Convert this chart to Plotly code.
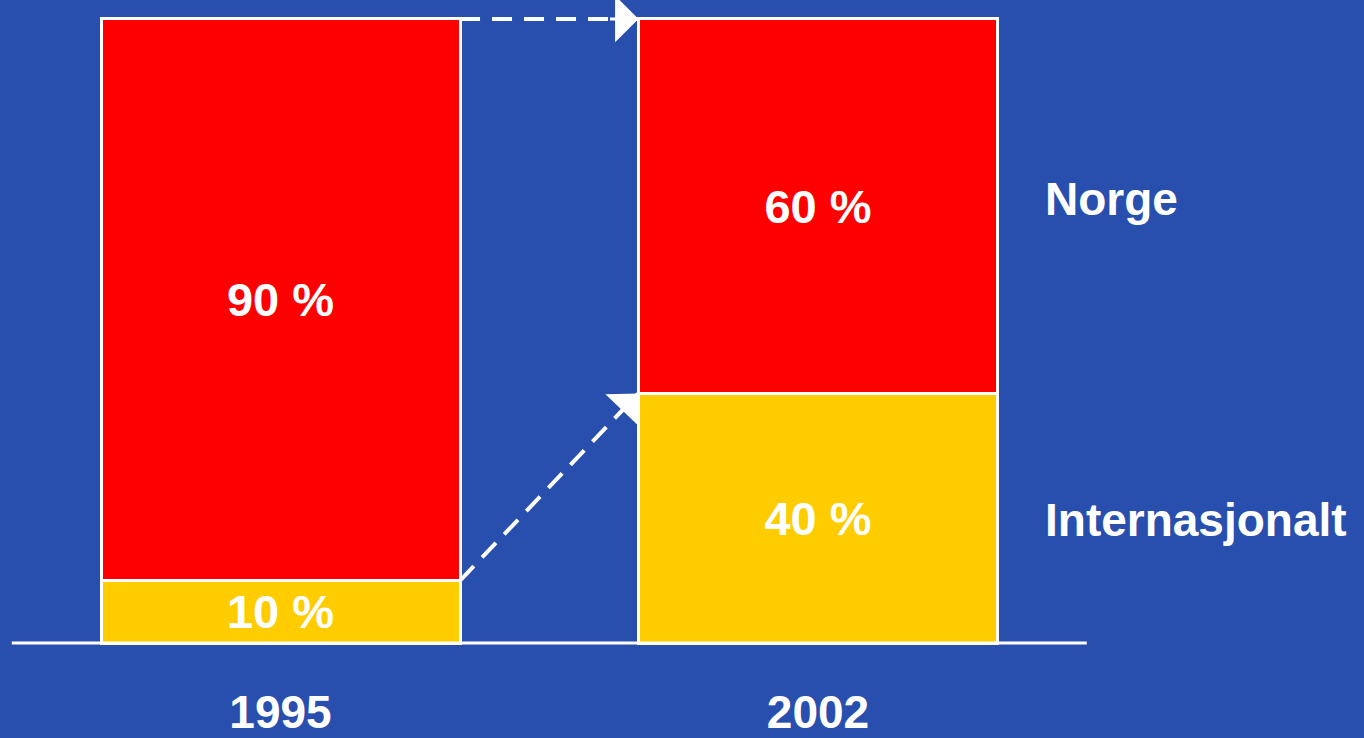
import plotly.graph_objects as go

years = ["1995", "2002"]
norge = [90, 60]
internasjonalt = [10, 40]
series_names = ["Internasjonalt", "Norge"]

BG = "#284FAE"
RED = "#FF0000"
YELLOW = "#FFCC00"
FONT = "Liberation Sans, Arial, sans-serif"
W = 0.668

xpos = list(range(len(years)))

fig = go.Figure()
for name, vals, col in [(series_names[0], internasjonalt, YELLOW), (series_names[1], norge, RED)]:
    fig.add_trace(go.Bar(
        x=xpos, y=vals, name=name, width=W,
        marker=dict(color=col, line=dict(color="white", width=3)),
        texttemplate="%{y} %", textposition="inside", insidetextanchor="middle",
        constraintext="none", textangle=0,
        textfont=dict(family=FONT, size=47, color="white", weight="bold"),
        showlegend=False, cliponaxis=False, hoverinfo="skip",
    ))

# baseline
fig.add_shape(type="line", xref="x", yref="y", x0=xpos[0] - 0.5, x1=xpos[-1] + 0.5, y0=0, y1=0,
              line=dict(color="white", width=3), layer="above")

# dashed arrows
right0 = xpos[0] + W / 2
left1 = xpos[1] - W / 2
tot0 = internasjonalt[0] + norge[0]
tot1 = internasjonalt[1] + norge[1]
arrows = [
    ((right0, tot0), (left1, tot1)),
    ((right0, internasjonalt[0]), (left1, internasjonalt[1])),
]
PXX = 537.5
PXY = 6.24
HEAD = 30
for (xa, ya), (xb, yb) in arrows:
    fig.add_shape(type="line", xref="x", yref="y", x0=xa, y0=ya, x1=xb, y1=yb,
                  line=dict(color="white", width=4, dash="20px,12px"), layer="above")
    dxp = (xb - xa) * PXX
    dyp = -(yb - ya) * PXY
    L = (dxp ** 2 + dyp ** 2) ** 0.5
    fig.add_annotation(x=xb, y=yb, xref="x", yref="y", text="", showarrow=True,
                       ax=-dxp / L * HEAD, ay=-dyp / L * HEAD,
                       arrowhead=1, arrowsize=2.6, arrowwidth=3, arrowcolor="white", standoff=0)

# right-side series labels
fig.add_annotation(x=1043 / 1364, xref="paper", y=internasjonalt[1] + norge[1] / 2, yref="y",
                   text="<b>Norge</b>", showarrow=False, xanchor="left", yanchor="middle", yshift=7,
                   font=dict(family=FONT, size=46, color="white"))
fig.add_annotation(x=1043 / 1364, xref="paper", y=internasjonalt[1] / 2, yref="y",
                   text="<b>Internasjonalt</b>", showarrow=False, xanchor="left", yanchor="middle", yshift=-2,
                   font=dict(family=FONT, size=46, color="white"))

fig.update_layout(
    barmode="stack",
    width=1364, height=738,
    margin=dict(l=0, r=0, t=0, b=78, autoexpand=False),
    paper_bgcolor=BG, plot_bgcolor=BG,
    hovermode=False,
    xaxis=dict(range=[-0.5219, 2.0158], tickvals=xpos, ticktext=[f"<b>{y}</b>" for y in years],
               showgrid=False, zeroline=False, showline=False, ticks="", automargin=False,
               tickfont=dict(family=FONT, size=46, color="white"), ticklabelstandoff=21),
    yaxis=dict(range=[-2.72, 103.04], visible=False, showgrid=False, zeroline=False, automargin=False),
)

fig.write_html("out.html", config={"displayModeBar": False},
               post_script="document.body.style.margin='0px';document.body.style.background='%s';" % BG)
